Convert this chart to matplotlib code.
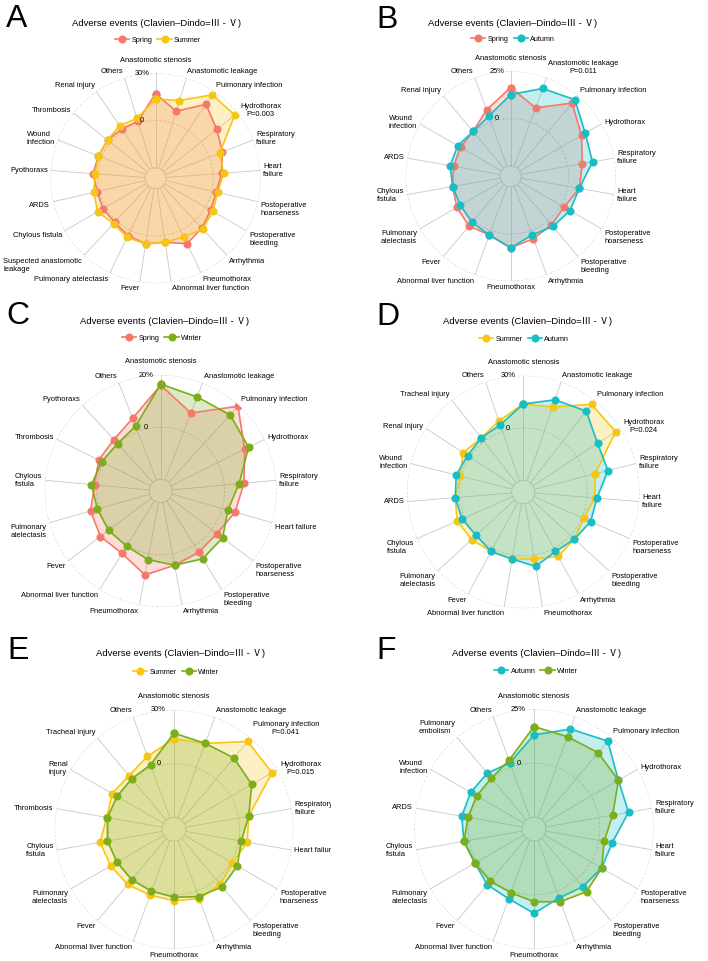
import numpy as np
import matplotlib
matplotlib.use('Agg')
import matplotlib.pyplot as plt
from matplotlib.transforms import Bbox, TransformedBbox

plt.rcParams['font.family'] = ['Liberation Sans', 'Noto Sans CJK SC', 'DejaVu Sans']

W, H = 708, 961
TITLE = 'Adverse events (Clavien–Dindo=Ⅲ - Ⅴ)'

colors = {'Spring': '#F4796C', 'Summer': '#F7C614',
          'Autumn': '#19BDC6', 'Winter': '#7BAE1A'}

# ---- data (incidence, %) ----
labels_a = ['Anastomotic stenosis', 'Anastomotic leakage', 'Pulmonary infection',
            'Hydrothorax\nP=0.003', 'Respiratory\nfailure', 'Heart\nfailure',
            'Postoperative\nhoarseness', 'Postoperative\nbleeding', 'Arrhythmia',
            'Pneumothorax', 'Abnormal liver function', 'Fever', 'Pulmonary atelectasis',
            'Suspected anastomotic\nleakage', 'Chylous fistula', 'ARDS', 'Pyothoraxs',
            'Wound\ninfection', 'Thrombosis', 'Renal injury', 'Others']
spring_a = [17.1, 7.9, 20.2, 13.1, 9.0, 5.4, 2.9, 3.8, 6.5, 9.4, 4.4, 5.4, 3.8, 1.5, 1.9, 1.3, 3.1, 2.3, 2.3, 1.3, 1.3]
summer_a = [13.7, 15.0, 27.5, 27.7, 7.1, 6.7, 3.8, 5.4, 7.3, 4.8, 4.4, 5.4, 5.0, 2.5, 5.8, 3.5, 1.7, 2.3, 2.3, 3.8, 3.1]

labels_b = ['Anastomotic stenosis', 'Anastomotic leakage\nP=0.011', 'Pulmonary infection',
            'Hydrothorax', 'Respiratory\nfailure', 'Heart\nfailure',
            'Postoperative\nhoarseness', 'Postoperative\nbleeding', 'Arrhythmia',
            'Pneumothorax', 'Abnormal liver function', 'Fever', 'Pulmonary\natelectasis',
            'Chylous\nfistula', 'ARDS', 'Wound\ninfection', 'Renal injury', 'Others']
spring_b = [16.4, 8.0, 20.0, 12.7, 7.9, 6.3, 2.1, 3.0, 4.6, 7.3, 2.5, 3.8, 2.3, 0.7, 0.1, 0.1, 0.4, 6.8]
autumn_b = [12.7, 18.9, 22.3, 15.0, 13.4, 6.3, 5.7, 4.1, 2.5, 7.3, 2.5, 1.3, 0.2, 0.7, 2.0, 1.8, 0.4, 3.4]

labels_c = ['Anastomotic stenosis', 'Anastomotic leakage', 'Pulmonary infection',
            'Hydrothorax', 'Respiratory\nfailure', 'Heart failure',
            'Postoperative\nhoarseness', 'Postoperative\nbleeding', 'Arrhythmia',
            'Pneumothorax', 'Abnormal liver function', 'Fever', 'Pulmonary\natelectasis',
            'Chylous\nfistula', 'Thrombosis', 'Pyothoraxs', 'Others']
spring_c = [16.1, 7.6, 19.5, 11.5, 7.6, 5.2, 2.6, 3.2, 4.5, 8.3, 3.7, 4.5, 3.5, 1.0, 2.1, 2.2, 5.4]
winter_c = [16.5, 14.2, 15.0, 13.2, 5.7, 2.3, 5.3, 6.1, 4.5, 2.3, 0.4, 0.6, 0.8, 2.2, 0.8, 0.1, 2.2]

labels_d = ['Anastomotic stenosis', 'Anastomotic leakage', 'Pulmonary infection',
            'Hydrothorax\nP=0.024', 'Respiratory\nfailure', 'Heart\nfailure',
            'Postoperative\nhoarseness', 'Postoperative\nbleeding', 'Arrhythmia',
            'Pneumothorax', 'Abnormal liver function', 'Fever', 'Pulmonary\natelectasis',
            'Chylous\nfistula', 'ARDS', 'Wound\ninfection', 'Renal injury',
            'Tracheal injury', 'Others']
summer_d = [13.8, 14.9, 27.0, 26.6, 5.8, 4.5, 1.1, 3.2, 5.3, 2.3, 2.3, 2.1, 3.6, 4.7, 2.5, 0.8, 4.5, 2.6, 6.4]
autumn_d = [13.8, 19.2, 22.1, 14.2, 13.4, 5.7, 5.5, 3.2, 2.1, 6.6, 2.3, 2.1, 0.1, 1.7, 2.5, 3.0, 1.5, 2.6, 4.0]

labels_e = ['Anastomotic stenosis', 'Anastomotic leakage', 'Pulmonary infection\nP=0.041',
            'Hydrothorax\nP=0.015', 'Respiratory\nfailure', 'Heart failure',
            'Postoperative\nhoarseness', 'Postoperative\nbleeding', 'Arrhythmia',
            'Pneumothorax', 'Abnormal liver function', 'Fever', 'Pulmonary\natelectasis',
            'Chylous\nfistula', 'Thrombosis', 'Renal\ninjury', 'Tracheal injury', 'Others']
summer_e = [13.9, 14.4, 27.4, 26.6, 5.7, 4.9, 1.0, 3.6, 4.6, 3.2, 2.5, 3.6, 4.2, 5.3, 1.5, 3.2, 2.5, 6.7]
winter_e = [17.1, 14.4, 15.4, 13.5, 5.7, 1.5, 4.2, 5.3, 3.4, 1.3, 0.1, 0.1, 0.1, 1.1, 1.1, 0.1, 0.1, 1.7]

labels_f = ['Anastomotic stenosis', 'Anastomotic leakage', 'Pulmonary infection',
            'Hydrothorax', 'Respiratory\nfailure', 'Heart\nfailure',
            'Postoperative\nhoarseness', 'Postoperative\nbleeding', 'Arrhythmia',
            'Pneumothorax', 'Abnormal liver function', 'Fever', 'Pulmonary\natelectasis',
            'Chylous\nfistula', 'ARDS', 'Wound\ninfection', 'Pulmonary\nembolism', 'Others']
autumn_f = [13.1, 18.8, 22.7, 14.7, 14.0, 6.3, 5.7, 4.5, 3.5, 8.6, 3.9, 3.2, 1.1, 2.5, 3.5, 3.4, 3.2, 2.2]
winter_f = [17.0, 15.0, 15.7, 14.7, 6.5, 2.5, 5.7, 7.4, 5.4, 3.2, 0.9, 1.1, 1.1, 2.5, 0.5, 0.2, 0.2, 3.4]

# radial layout: "0" ring sits at 55% of the radius, inner hole at 10%
F0, HOLE = 0.55, 0.10
GRID = '#c8c8c8'


def radar(ax, labels, series, names, vmax, clip=None):
    n = len(labels)
    ang = np.arange(n) * 2 * np.pi / n
    ro = -F0 / (1 - F0) * vmax
    hole = ro + HOLE * (vmax - ro)
    ax.set_theta_zero_location('N')
    ax.set_theta_direction(-1)
    ax.set_ylim(ro, vmax)
    ax.grid(False)
    ax.set_xticks([])
    ax.set_yticks([])
    ax.spines['polar'].set_visible(False)
    ax.patch.set_alpha(0)

    ring = np.linspace(0, 2 * np.pi, 361)
    ax.plot(ring, np.full_like(ring, hole), color=GRID, lw=0.6, zorder=1)
    for r in (0, vmax):
        ax.plot(ring, np.full_like(ring, r), color=GRID, lw=0.6, ls=(0, (3, 2)), zorder=1)
    for a in ang:
        ax.plot([a, a], [hole, vmax], color=GRID, lw=0.6, zorder=1)

    handles = []
    for vals, name in zip(series, names):
        t = np.r_[ang, ang[:1]]
        v = np.r_[vals, vals[:1]]
        ax.fill(t, v, color=colors[name], alpha=0.25, lw=0, zorder=2)
        h, = ax.plot(t, v, color=colors[name], lw=1.2, marker='o', ms=4.8,
                     zorder=3, label=name)
        handles.append(h)

    for i, (a, lab) in enumerate(zip(ang, labels)):
        s, c = np.sin(a), np.cos(a)
        ha = 'center' if abs(s) < 0.05 else ('left' if s > 0 else 'right')
        va = 'bottom' if c > 0.7 else ('center' if c > -0.2 else 'top')
        gap = 7 if i == 0 else 2.2
        txt = ax.annotate(lab, xy=(a, vmax), xytext=(gap * s, gap * c),
                          textcoords='offset points', ha=ha, va=va, fontsize=5.4,
                          multialignment='center' if 'P=' in lab else 'left',
                          annotation_clip=False)
        if clip is not None:
            txt.set_clip_box(clip)
            txt.set_clip_on(True)

    R_pt = ax.get_position().width * W * 0.72 / 2
    for r, s in ((0, '0'), (vmax, '%d%%' % vmax)):
        ax.annotate(s, xy=(0, r), xytext=(-0.13 * R_pt, 0), textcoords='offset points',
                    ha='center', va='center', fontsize=5.4, annotation_clip=False)
    return handles


fig = plt.figure(figsize=(W / 100, H / 100), dpi=100)

panels = [
    ('A', labels_a, [spring_a, summer_a], ['Spring', 'Summer'], 30),
    ('B', labels_b, [spring_b, autumn_b], ['Spring', 'Autumn'], 25),
    ('C', labels_c, [spring_c, winter_c], ['Spring', 'Winter'], 20),
    ('D', labels_d, [summer_d, autumn_d], ['Summer', 'Autumn'], 30),
    ('E', labels_e, [summer_e, winter_e], ['Summer', 'Winter'], 30),
    ('F', labels_f, [autumn_f, winter_f], ['Autumn', 'Winter'], 25),
]
# pixel layout: radar centre/radius, title, legend, panel letter
layout = {
    'A': dict(c=(155.5, 178.3), R=105, title=(157, 23), leg=(158, 40), letter=(6, 27)),
    'B': dict(c=(510.7, 176.3), R=105, title=(513, 23), leg=(513, 39), letter=(376, 28)),
    'C': dict(c=(160.7, 491), R=116, title=(165, 321), leg=(162, 338), letter=(6, 324)),
    'D': dict(c=(523.3, 492), R=116.3, title=(528, 322), leg=(524, 339), letter=(376, 325)),
    'E': dict(c=(174, 829.3), R=119.3, title=(181, 654), leg=(176, 672), letter=(7, 659)),
    'F': dict(c=(534, 829), R=119.7, title=(537, 654), leg=(536, 671), letter=(376, 659)),
}

for key, labels, series, names, vmax in panels:
    L = layout[key]
    cx, cy = L['c']
    R = L['R']
    ax = fig.add_axes([(cx - R) / W, 1 - (cy + R) / H, 2 * R / W, 2 * R / H],
                      projection='polar')
    clip = None
    if key == 'E':
        clip = TransformedBbox(Bbox.from_extents(0, 0, 331 / W, 1), fig.transFigure)
    handles = radar(ax, labels, series, names, vmax, clip)

    tx, ty = L['title']
    fig.text(tx / W, 1 - ty / H, TITLE, ha='center', va='center', fontsize=6.8)
    lx, ly = L['leg']
    fig.legend(handles=handles, loc='center', bbox_to_anchor=(lx / W, 1 - ly / H),
               ncol=2, frameon=False, fontsize=5.2, handlelength=2.0,
               handletextpad=0.3, columnspacing=0.7, borderpad=0, borderaxespad=0)
    px, py = L['letter']
    fig.text(px / W, 1 - py / H, key, fontsize=23, ha='left', va='baseline')

fig.savefig('out.png', dpi=100)
